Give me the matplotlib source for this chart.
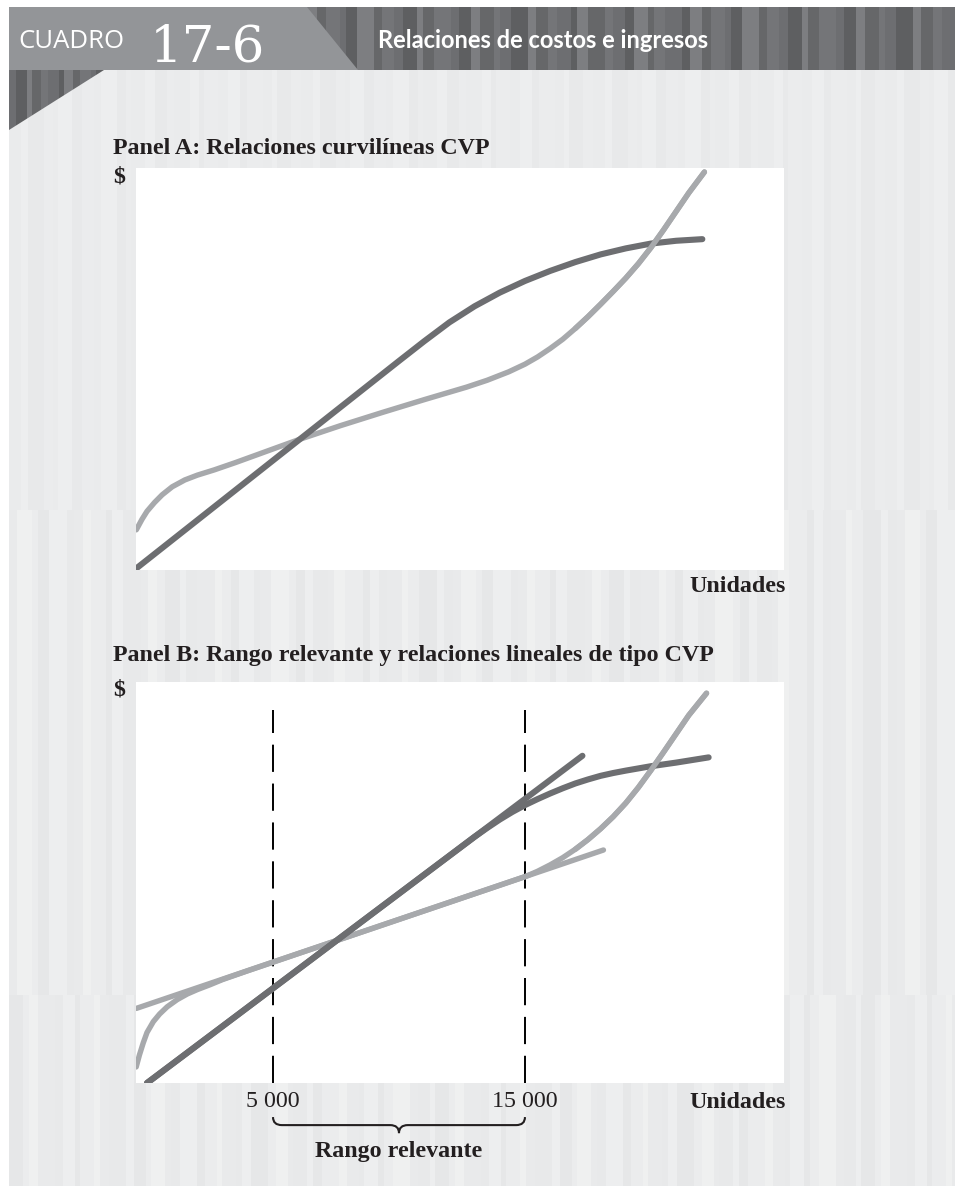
#!/usr/bin/env python3
"""
plot.py - Cuadro 17-6: relaciones de costos e ingresos (CVP)
"""

import matplotlib
matplotlib.use('Agg')
import matplotlib.pyplot as plt
from matplotlib.patches import Rectangle, Polygon, PathPatch
from matplotlib.path import Path
from matplotlib.transforms import blended_transform_factory

# ---- data (x in unidades, y in $ on a 0-100 scale) ----
# Panel A: curvilinear CVP
a_rev_x = [-425, 2000, 4000, 6000, 8000, 10000, 11000, 12000, 13000, 14000, 15000, 16000,
           17000, 18000, 19000, 20000, 21000, 22039]
a_rev_y = [0.4, 12.4, 22.3, 32.2, 42.1, 52.0, 56.9, 61.6, 65.6, 69.0, 71.9, 74.4,
           76.6, 78.5, 80.0, 81.2, 81.9, 82.3]
a_cost_x = [-425, -200, 0, 300, 600, 1000, 1500, 2000, 2667, 3500, 4337, 6008, 7674, 9345,
            11015, 12686, 13500, 14356, 15000, 15500, 16000, 16500, 17000, 17500, 18000,
            18500, 19000, 19500, 20000, 20500, 21000, 21500, 22121]
a_cost_y = [10.0, 12.6, 14.6, 16.8, 18.7, 20.7, 22.4, 23.6, 24.9, 26.7, 28.6, 32.4, 35.9, 39.2,
            42.4, 45.5, 47.2, 49.3, 51.2, 53.0, 55.1, 57.4, 60.1, 63.0, 66.1,
            69.3, 72.6, 76.2, 80.2, 84.6, 89.2, 93.8, 99.0]

# Panel B: relevant range and linear CVP
b_rev_line_x = [0, 17280]
b_rev_line_y = [0, 81.6]
b_rev_curve_x = [0, 13000, 13500, 14000, 14500, 15000, 15500, 16000, 16500, 17000, 17500,
                 18000, 18500, 19000, 20000, 21000, 22289]
b_rev_curve_y = [0, 61.4, 63.6, 65.7, 67.6, 69.3, 70.8, 72.2, 73.5, 74.7, 75.7,
                 76.6, 77.3, 77.9, 79.0, 79.9, 81.2]
b_cost_line_x = [-425, 18114]
b_cost_line_y = [18.6, 58.1]
b_cost_curve_x = [-430, -300, -150, 0, 250, 500, 800, 1200, 1600, 2000, 2500, 3000, 4000,
                  15027, 15500, 16000, 16500, 17000, 17500, 18000, 18500, 19000, 19500,
                  20000, 20500, 21000, 21500, 22205]
b_cost_curve_y = [4.0, 7.0, 10.0, 12.6, 15.3, 17.2, 19.0, 20.8, 22.2, 23.3, 24.5, 25.8, 28.0,
                  51.5, 52.8, 54.4, 56.2, 58.3, 60.7, 63.4, 66.4, 69.8, 73.7,
                  78.0, 82.5, 87.1, 91.7, 97.2]

relevant_range = [5000, 15000]
range_labels = ['5 000', '15 000']

x_limits = (-437, 25280)
y_limits = (0, 100)

# ---- style ----
W, H = 955, 1186
DARK = '#6d6e71'
LIGHT = '#a7a9ac'
INK = '#231f20'
SERIF = ['Liberation Serif', 'DejaVu Serif']
SANS = ['Lato', 'Open Sans', 'DejaVu Sans']


def stripes(ax, x0, x1, y0, y1, widths, colors, clip=None):
    """Fill a band with vertical stripes of varying width/shade"""
    x = x0
    i = 0
    while x < x1:
        w = widths[i % len(widths)]
        r = Rectangle((x, y0), min(w, x1 - x), y1 - y0, facecolor=colors[i % len(colors)],
                      edgecolor='none', zorder=0)
        ax.add_patch(r)
        if clip is not None:
            r.set_clip_path(clip)
        x += w
        i += 1


def panel_axes(fig, top, bottom, left=136, right=784):
    ax = fig.add_axes([left / W, 1 - bottom / H, (right - left) / W, (bottom - top) / H])
    ax.set_facecolor('white')
    ax.set_xlim(*x_limits)
    ax.set_ylim(*y_limits)
    ax.set_xticks([])
    ax.set_yticks([])
    for s in ax.spines.values():
        s.set_visible(False)
    return ax


def curve(ax, x, y, color, lw, z=3):
    ax.plot(x, y, color=color, lw=lw, solid_capstyle='round', solid_joinstyle='round', zorder=z)


fig = plt.figure(figsize=(W / 100, H / 100), dpi=100, facecolor='white')

# background layer in pixel coordinates
bg = fig.add_axes([0, 0, 1, 1])
bg.set_xlim(0, W)
bg.set_ylim(H, 0)
bg.axis('off')

soft = ['#e8e9ea', '#edeeef', '#e6e7e8', '#ebeced', '#eff0f0', '#e9eaeb']
bg.add_patch(Rectangle((9, 70), W - 9, H - 70, facecolor='#ebeced', edgecolor='none', zorder=0))
stripes(bg, 9, W, 70, 510, [12, 7, 16, 9, 5, 14, 10], ['#eaebec', '#edeeef', '#e8e9ea', '#ebeced'])
stripes(bg, 9, W, 510, 995, [8, 15, 6, 11, 18, 7, 9], soft[::-1])
stripes(bg, 9, W, 995, H, [14, 6, 9, 17, 8, 12, 5], soft[2:] + soft[:2])

# header bar
dark_shades = ['#6d6e71', '#5e5f61', '#7d7e81', '#666769', '#747578']
stripes(bg, 9, W, 7, 70, [9, 14, 6, 11, 17, 8, 12], dark_shades)
tri = Polygon([(9, 70), (104, 70), (9, 130)], closed=True, facecolor='none', edgecolor='none')
bg.add_patch(tri)
stripes(bg, 9, 104, 70, 130, [7, 11, 5, 9], dark_shades, clip=tri)
bg.add_patch(Polygon([(9, 7), (307, 7), (358, 70), (9, 70)], closed=True,
                     facecolor='#939598', edgecolor='none', zorder=1))

bg.text(18, 48, 'CUADRO', fontsize=18.5, color='white', family=['Open Sans', 'DejaVu Sans'],
        va='baseline', ha='left', zorder=2)
bg.text(150, 61, '17-6', fontsize=37, color='white', family=['DejaVu Serif'],
        va='baseline', ha='left', zorder=2)
bg.text(378, 40, 'Relaciones de costos e ingresos', fontsize=17, color='white', family=SANS,
        fontweight='bold', va='center', ha='left', zorder=2)

# panel titles and axis words
txt = dict(color=INK, family=SERIF, fontweight='bold', fontsize=17.3, zorder=2)
bg.text(113, 148, 'Panel A: Relaciones curvilíneas CVP', va='center', ha='left', **txt)
bg.text(113, 177, '$', va='center', ha='left', **txt)
bg.text(786, 587, 'Unidades', va='center', ha='right', **txt)
bg.text(113, 656, 'Panel B: Rango relevante y relaciones lineales de tipo CVP', va='center',
        ha='left', **txt)
bg.text(113, 690, '$', va='center', ha='left', **txt)
bg.text(786, 1102, 'Unidades', va='center', ha='right', **txt)

# ---- Panel A ----
axA = panel_axes(fig, 168, 570)
curve(axA, a_cost_x, a_cost_y, LIGHT, 3.9, z=2)
curve(axA, a_rev_x, a_rev_y, DARK, 4.4, z=3)
upper = [i for i, v in enumerate(a_cost_x) if v >= 17000]
curve(axA, [a_cost_x[i] for i in upper], [a_cost_y[i] for i in upper], LIGHT, 3.9, z=4)

bg.text(563, 190, 'Costo total', va='center', ha='left', **txt)
bg.text(719, 278, 'Ingreso\ntotal', va='center', ha='center', multialignment='center',
        linespacing=1.05, **txt)

# ---- Panel B ----
axB = panel_axes(fig, 682, 1083)
for xr in relevant_range:
    axB.plot([xr, xr], [0, 93], color='black', lw=1.4, dashes=(14, 6), zorder=1)

curve(axB, b_cost_curve_x, b_cost_curve_y, LIGHT, 3.9, z=2)
curve(axB, b_cost_line_x, b_cost_line_y, LIGHT, 3.9, z=2)
curve(axB, b_rev_line_x, b_rev_line_y, DARK, 4.4, z=3)
curve(axB, b_rev_curve_x, b_rev_curve_y, DARK, 4.4, z=3)
upper = [i for i, v in enumerate(b_cost_curve_x) if v >= 17000]
curve(axB, [b_cost_curve_x[i] for i in upper], [b_cost_curve_y[i] for i in upper], LIGHT, 3.9, z=4)

bg.text(534, 705, 'Costos totales', va='center', ha='left', **txt)
bg.text(723, 801, 'Ingresos\ntotales', va='center', ha='center', multialignment='center',
        linespacing=1.05, **txt)

# tick labels and brace for the relevant range
trans = blended_transform_factory(axB.transData, axB.transAxes)
for xr, lab in zip(relevant_range, range_labels):
    axB.text(xr, -0.047, lab, transform=trans, ha='center', va='center', color=INK,
             family=SERIF, fontsize=17.3, clip_on=False)

x0, x1 = relevant_range
xm = (x0 + x1) / 2
r = 350
y0, y1, y2 = -0.085, -0.105, -0.125
verts = [(x0, y0), (x0, y1), (x0 + r, y1), (xm - r, y1), (xm, y1), (xm, y2),
         (xm, y2), (xm, y1), (xm + r, y1), (x1 - r, y1), (x1, y1), (x1, y0)]
codes = [Path.MOVETO, Path.CURVE3, Path.CURVE3, Path.LINETO, Path.CURVE3, Path.CURVE3,
         Path.MOVETO, Path.CURVE3, Path.CURVE3, Path.LINETO, Path.CURVE3, Path.CURVE3]
brace = PathPatch(Path(verts, codes), transform=trans, facecolor='none', edgecolor=INK,
                  lw=1.5, clip_on=False)
axB.add_patch(brace)
axB.text(xm, -0.172, 'Rango relevante', transform=trans, ha='center', va='center', color=INK,
         family=SERIF, fontweight='bold', fontsize=17.3, clip_on=False)

plt.savefig('out.png', dpi=100, facecolor='white')
print("Saved out.png")
